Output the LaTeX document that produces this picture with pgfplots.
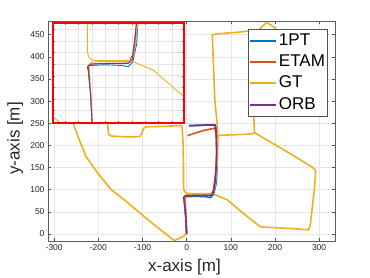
\documentclass[border=0pt]{standalone}
\usepackage{fontspec}
\setmainfont{Liberation Sans}
\usepackage{pgfplots}
\usepackage{pgfplotstable}
\pgfplotsset{compat=1.18}
\definecolor{c1}{HTML}{0072BD}
\definecolor{c2}{HTML}{D95319}
\definecolor{c3}{HTML}{EDB120}
\definecolor{c4}{HTML}{7E2F8E}
\definecolor{axc}{HTML}{262626}
\definecolor{gridc}{HTML}{E6E6E6}

\pgfplotstableread{
x y
0 0
-2 40
-6 81
-3 84
20 85
45 84
54 82
61 89
67 115
69 150
69 200
67 238
64 246
40 246
5 245
}\onept
\pgfplotstableread{
x y
0 0
-2 40
-6 83
-3 86
20 87
45 87
55 88
61 100
66 140
68 180
67 225
64 239
50 236
40 234
30 231
20 228
2 222
}\etam
\pgfplotstableread{
x y
0 0
-1 30
-3 60
-4 85
0 89
20 90
45 90
57 89
63 100
68 140
70 180
71 222
77 223
110 224
148 226
154 229
182 212
227 186
286 150
292 143
291 120
288 90
280 20
276 9
240 12
167 16
130 45
92 77
75 84
61 90
}\gtA
\pgfplotstableread{
x y
0 0
-8 -6
-28 -15
-60 10
-96 39
-140 76
-171 100
-201 137
-228 175
-246 220
-258 252
-265 300
-240 330
-200 320
-181 290
-179 252
-177 225
-170 221
-130 219
-106 220
-101 228
-98 238
-92 242
-50 243
-12 245
-10 240
-8 200
-7 150
-7 105
-5 96
0 92
10 91
40 91
58 91
}\gtB
\pgfplotstableread{
x y
71 222
68 260
64 300
60 400
58 450
70 452
120 456
163 461
182 478
201 465
195 430
160 420
153 380
152 300
152 264
154 229
}\gtC
\pgfplotstableread{
x y
0 0
-2 40
-5 75
-7 82
-3 86
20 87
45 87
54 87
60 92
64 115
67 150
68 190
67 225
65 246
50 246
30 245
5 244
}\orb

\begin{document}
\begin{tikzpicture}[x=1pt,y=1pt]
\useasboundingbox (0,0) rectangle (370,277);
\begin{axis}[
 at={(48pt,36pt)}, anchor=south west,
 width=287pt, height=220pt, scale only axis,
 xmin=-314, xmax=336, ymin=-16, ymax=481,
 xtick={-300,-200,...,300}, ytick={0,50,...,450},
 grid=major, major grid style={gridc, line width=0.5pt},
 axis line style={axc!75, line width=0.5pt},
 tick style={axc!80, line width=0.5pt}, major tick length=3pt,
 tick label style={font=\fontsize{8.5}{9}\selectfont, text=axc},
 /pgf/number format/assume math mode=true,
 xlabel={x-axis [m]}, ylabel={y-axis [m]},
 label style={font=\fontsize{17}{18}\selectfont, text=axc},
 xlabel style={at={(axis description cs:0.4756,-0.1386)}, anchor=base},
 ylabel style={at={(axis description cs:-0.0986,0.466)}, anchor=base, rotate=0},
 legend style={at={(axis description cs:0.9746,0.9636)}, anchor=north east,
   font=\fontsize{17}{18}\selectfont, draw=axc!80, line width=0.5pt,
   inner xsep=1pt, inner ysep=1.5pt, row sep=1.6pt,
   nodes={inner sep=1.5pt, text height=12.8pt, text depth=4pt}},
 legend cell align=left,
 legend image code/.code={\draw[#1, line width=2pt] (0pt,0pt) -- (26pt,0pt);},
 every axis plot/.append style={line width=1.6pt, line join=round},
]
\addplot[c1] table {\onept};
\addlegendentry{1PT}
\addplot[c2] table {\etam};
\addlegendentry{ETAM}
\addplot[c3] table {\gtA};
\addlegendentry{GT}
\addplot[c3, forget plot] table {\gtB};
\addplot[c3, forget plot] table {\gtC};
\addplot[c4] table {\orb};
\addlegendentry{ORB}
\end{axis}
\begin{axis}[
 at={(52.7pt,154pt)}, anchor=south west,
 width=131.3pt, height=100pt, scale only axis,
 xmin=-59, xmax=138, ymin=0, ymax=146,
 xtick={-40,-20,...,120}, ytick={18,35,52,69,86,103,120,137},
 xticklabels={}, yticklabels={},
 grid=major, major grid style={gridc, line width=0.5pt},
 axis background/.style={fill=white},
 axis line style={draw=none},
 tick style={axc!70, line width=0.4pt}, major tick length=2pt,
 every axis plot/.append style={line width=0.9pt, line join=round},
]
\addplot[c1] table {\onept};
\addplot[c2] table {\etam};
\addplot[c3] table {\gtA};
\addplot[c3] table {\gtB};
\addplot[c3] table {\gtC};
\addplot[c4] table {\orb};
\end{axis}
\draw[red, line width=1.8pt] (52.7,154) rectangle (184,254);
\end{tikzpicture}
\end{document}
